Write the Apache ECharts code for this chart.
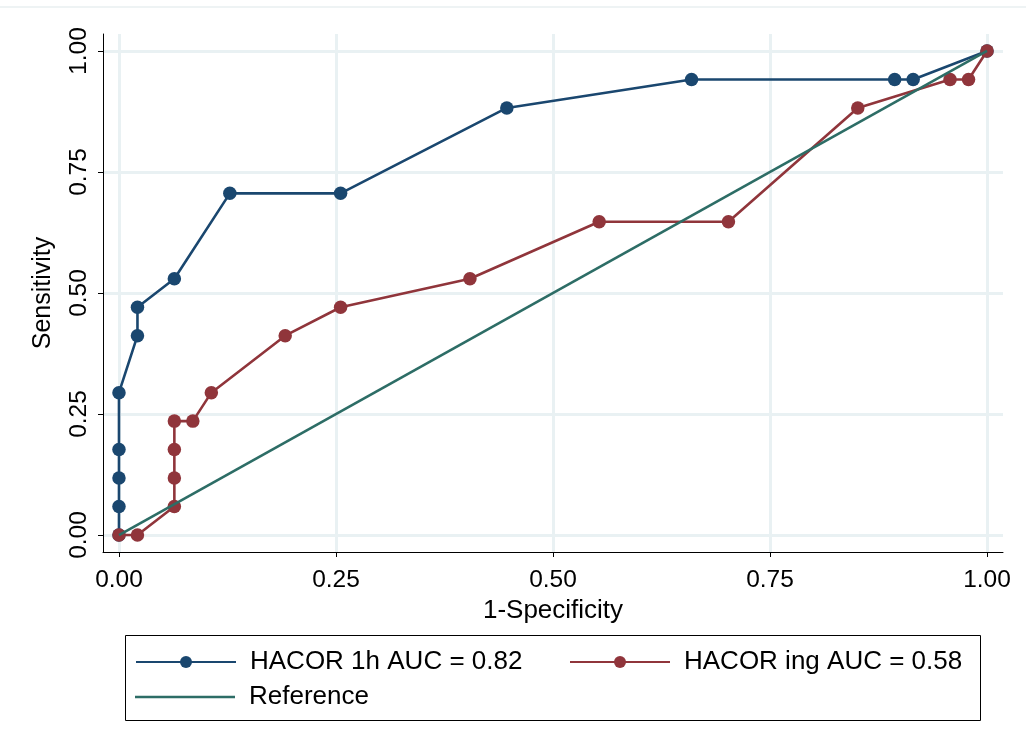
<!DOCTYPE html>
<html>
<head>
<meta charset="utf-8">
<script src="https://cdn.jsdelivr.net/npm/echarts@6/dist/echarts.min.js"></script>
<style>html,body{margin:0;padding:0;background:#fff;}#c{width:1026px;height:753px;}</style>
</head>
<body>
<div id="c"></div>
<script>
// ---- data ----
var xTicks = [0, 0.25, 0.5, 0.75, 1];
var yTicks = [0, 0.25, 0.5, 0.75, 1];
var hacor1hX = [0, 0, 0, 0, 0, 0.0213, 0.0213, 0.0638, 0.1277, 0.2553, 0.4468, 0.6596, 0.8936, 0.9149, 1];
var hacor1hY = [0, 0.0588, 0.1176, 0.1765, 0.2941, 0.4118, 0.4706, 0.5294, 0.7059, 0.7059, 0.8824, 0.9412, 0.9412, 0.9412, 1];
var hacorIngX = [0, 0.0213, 0.0638, 0.0638, 0.0638, 0.0638, 0.0851, 0.1064, 0.1915, 0.2553, 0.4043, 0.5532, 0.7021, 0.8511, 0.9574, 0.9787, 1];
var hacorIngY = [0, 0, 0.0588, 0.1176, 0.1765, 0.2353, 0.2353, 0.2941, 0.4118, 0.4706, 0.5294, 0.6471, 0.6471, 0.8824, 0.9412, 0.9412, 1];
var refX = [0, 1];
var refY = [0, 1];
var names = ['HACOR 1h AUC = 0.82', 'HACOR ing AUC = 0.58', 'Reference'];
var xTitle = '1-Specificity';
var yTitle = 'Sensitivity';

function pairs(xs, ys) { return xs.map(function (x, i) { return [x, ys[i]]; }); }

var FONT = 'Liberation Sans, Arial, sans-serif';
var BLUE = '#1a476f', RED = '#90353b', GREEN = '#2d6d66', GRID = '#e9f1f3';

var gridMarks = xTicks.map(function (v) { return { xAxis: v }; })
  .concat(yTicks.map(function (v) { return { yAxis: v }; }));

var legendText = { fontSize: 26, color: '#000', lineHeight: 30, fontFamily: FONT, padding: [0, 0, 0, 9] };

var chart = echarts.init(document.getElementById('c'), null, { renderer: 'canvas' });
chart.setOption({
  animation: false,
  backgroundColor: '#fff',
  textStyle: { fontFamily: FONT },
  grid: { left: 103, right: 23, top: 34, bottom: 201, containLabel: false },
  xAxis: {
    type: 'value', min: -0.0184, max: 1.0184,
    name: xTitle, nameLocation: 'middle', nameGap: 41,
    nameTextStyle: { fontSize: 26, color: '#000', fontFamily: FONT },
    axisLine: { onZero: false, lineStyle: { color: '#000', width: 1 } },
    axisTick: { show: true, length: 5, customValues: xTicks, lineStyle: { color: '#000' } },
    axisLabel: { customValues: xTicks, fontSize: 24.5, color: '#000', margin: 16, fontFamily: FONT,
      formatter: function (v) { return v.toFixed(2); } },
    splitLine: { show: false }
  },
  yAxis: {
    type: 'value', min: -0.0351, max: 1.0351,
    name: yTitle, nameLocation: 'middle', nameGap: 47, nameRotate: 90,
    nameTextStyle: { fontSize: 25, color: '#000', fontFamily: FONT },
    axisLine: { onZero: false, lineStyle: { color: '#000', width: 1 } },
    axisTick: { show: true, length: 5, customValues: yTicks, lineStyle: { color: '#000' } },
    axisLabel: { customValues: yTicks, fontSize: 24.5, color: '#000', margin: 11, rotate: 90, fontFamily: FONT,
      formatter: function (v) { return v.toFixed(2); } },
    splitLine: { show: false }
  },
  legend: [
    { data: [names[0]], left: 135, top: 647, padding: 0, itemWidth: 100, itemHeight: 15,
      textStyle: legendText },
    { data: [names[1]], left: 569, top: 647, padding: 0, itemWidth: 100, itemHeight: 15,
      textStyle: legendText },
    { data: [{ name: names[2], icon: 'rect' }], left: 135, top: 682, padding: 0, itemWidth: 100, itemHeight: 2.5,
      textStyle: legendText }
  ],
  graphic: [
    { type: 'rect', shape: { x: 125.5, y: 635.5, width: 855, height: 85 },
      style: { fill: 'none', stroke: '#000', lineWidth: 1 }, silent: true },
    { type: 'line', shape: { x1: 0, y1: 7, x2: 1026, y2: 7 },
      style: { stroke: '#e8eff0', lineWidth: 1.5 }, silent: true }
  ],
  series: [
    { type: 'line', name: '_grid', data: [], z: 0, silent: true,
      markLine: { silent: true, z: 0, symbol: 'none', label: { show: false }, emphasis: { disabled: true },
        lineStyle: { color: GRID, width: 3, type: 'solid' }, data: gridMarks, animation: false } },
    { type: 'line', name: names[0], data: pairs(hacor1hX, hacor1hY), z: 3,
      color: BLUE, symbol: 'circle', symbolSize: 13.5, showSymbol: true, showAllSymbol: true,
      lineStyle: { color: BLUE, width: 2.6 }, itemStyle: { color: BLUE } },
    { type: 'line', name: names[1], data: pairs(hacorIngX, hacorIngY), z: 4,
      color: RED, symbol: 'circle', symbolSize: 13.5, showSymbol: true, showAllSymbol: true,
      lineStyle: { color: RED, width: 2.6 }, itemStyle: { color: RED } },
    { type: 'line', name: names[2], data: pairs(refX, refY), z: 5,
      color: GREEN, symbol: 'none', showSymbol: false,
      lineStyle: { color: GREEN, width: 2.6 }, itemStyle: { color: GREEN } }
  ]
});
</script>
</body>
</html>
